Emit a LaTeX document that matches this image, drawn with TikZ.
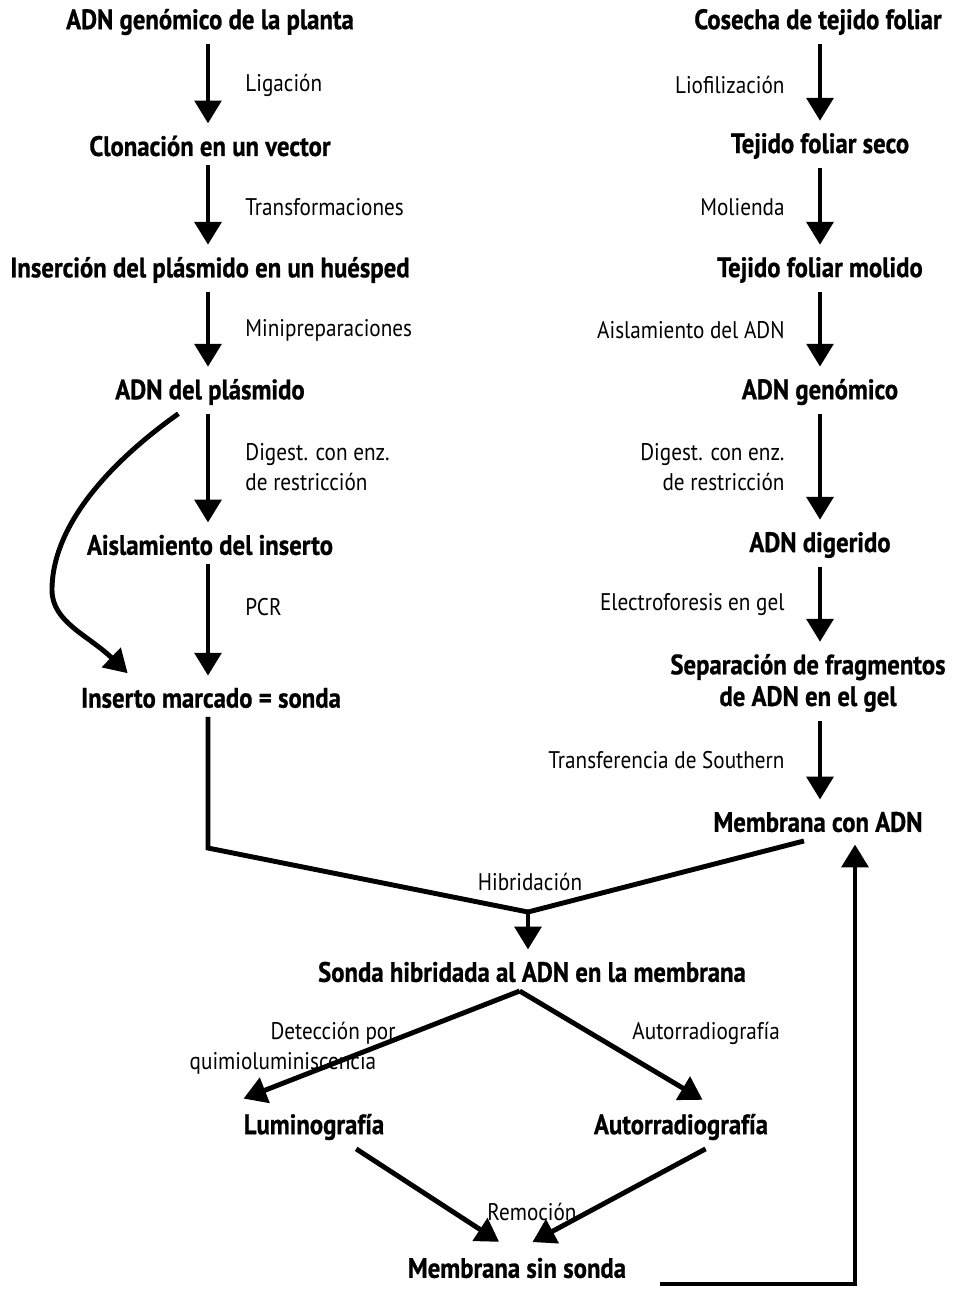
\documentclass[tikz,border=0pt]{standalone}
\usepackage{fontspec}
\setmainfont{PT Sans}[FakeStretch=0.88,BoldFeatures={FakeBold=0.8}]
\usetikzlibrary{arrows.meta}
\def\colL{208}
\def\colR{820}

\begin{document}
\begin{tikzpicture}[x=0.02cm,y=-0.02cm,line width=2.8pt,
    arr/.style={-{Triangle[width=15pt,length=13pt]}},
    shorten >=2pt]
    \tikzstyle{stage}=[font=\fontsize{16}{18}\selectfont\bfseries,inner sep=0pt,outer sep=5pt,align=center]
    \tikzstyle{annot}=[font=\fontsize{13.7}{17}\selectfont,inner sep=0pt]
    \tikzstyle{annotL}=[annot,anchor=west,align=left]
    \tikzstyle{annotR}=[annot,anchor=east,align=right]
    \useasboundingbox (0,0) rectangle (963,1289);

    % Left column: probe preparation
    \node[stage] (L-1) at (210,22) {ADN genómico de la planta};
    \node[stage] (L-2) at (210,146) {Clonación en un vector};
    \node[stage] (L-3) at (210,270) {Inserción del plásmido en un huésped};
    \node[stage] (L-4) at (210,392) {ADN del plásmido};
    \node[stage] (L-5) at (210,545) {Aislamiento del inserto};
    \node[stage] (L-6) at (211,698) {Inserto marcado = sonda};

    % Right column: plant DNA on the membrane
    \node[stage] (R-1) at (818,22) {Cosecha de tejido foliar};
    \node[stage] (R-2) at (\colR,146) {Tejido foliar seco};
    \node[stage] (R-3) at (\colR,270) {Tejido foliar molido};
    \node[stage] (R-4) at (\colR,392) {ADN genómico};
    \node[stage] (R-5) at (\colR,545) {ADN digerido};
    \node[stage] (R-6) at (808,683) {Separación de fragmentos\\de ADN en el gel};
    \node[stage] (R-7) at (818,822) {Membrana con ADN};

    % Bottom: hybridisation and detection
    \node[stage] (hyb) at (532,972) {Sonda hibridada al ADN en la membrana};
    \node[stage] (lum) at (314,1127) {Luminografía};
    \node[stage] (aut) at (681,1127) {Autorradiografía};
    \node[stage] (strip) at (517,1268) {Membrana sin sonda};

    % Vertical arrows with their labels
    \foreach \a/\b in {1/2,2/3,3/4,4/5,5/6}
        \draw[arr] (L-\a.south -| \colL,0) -- (L-\b.north -| \colL,0);
    \foreach \a/\b in {1/2,2/3,3/4,4/5,5/6,6/7}
        \draw[arr] (R-\a.south -| \colR,0) -- (R-\b.north -| \colR,0);

    \node[annotL] at (243,85) {Ligación};
    \node[annotL] at (243,207) {Transformaciones};
    \node[annotL] at (243,330) {Minipreparaciones};
    \node[annotL] at (243,467) {Digest. con enz.\\de restricción};
    \node[annotL] at (243,607) {PCR};

    \node[annotR] at (787,85) {Liofilización};
    \node[annotR] at (787,207) {Molienda};
    \node[annotR] at (787,330) {Aislamiento del ADN};
    \node[annotR] at (787,467) {Digest. con enz.\\de restricción};
    \node[annotR] at (787,605) {Electroforesis en gel};
    \node[annotR] at (787,760) {Transferencia de Southern};

    % Plasmid DNA used directly as probe
    \draw[arr] ([xshift=-18pt]L-4.south) .. controls (120,455) and (52,520) .. (52,590)
        .. controls (52,622) and (88,635) .. ([xshift=-46pt,yshift=2pt]L-6.north);

    % Merge of probe and membrane
    \coordinate (bend) at (\colL,848);
    \coordinate (join) at (528,912);
    \draw[shorten >=0pt] (L-6.south -| \colL,0) -- (bend) -- (join);
    \draw[shorten >=0pt] ([xshift=-8pt]R-7.south) -- (join);
    \draw[arr] (join) -- (hyb.north -| join);
    \node[annot] at (530,882) {Hibridación};

    % Detection methods
    \draw[arr] ([xshift=-7pt]hyb.south) -- ([xshift=3pt,yshift=3pt]lum.north west);
    \draw[arr] ([xshift=-7pt]hyb.south) -- ([xshift=14pt,yshift=2pt]aut.north);
    \node[annotR] at (398,1048) {Detección por\\quimioluminiscencia\hspace*{11pt}};
    \node[annotL] at (630,1033) {Autorradiografía};

    % Probe removal
    \draw[arr] ([xshift=24pt]lum.south) -- ([xshift=-8.5pt,yshift=3pt]strip.north);
    \draw[arr] ([xshift=14pt]aut.south) -- ([xshift=7pt,yshift=3pt]strip.north);
    \node[annot] at (532,1212) {Remoción};

    % Stripped membrane goes back for a new probe
    \coordinate (ret) at (855,1284);
    \draw[arr] (660,1284) -- (ret) -- (ret |- R-7.south);
\end{tikzpicture}
\end{document}
